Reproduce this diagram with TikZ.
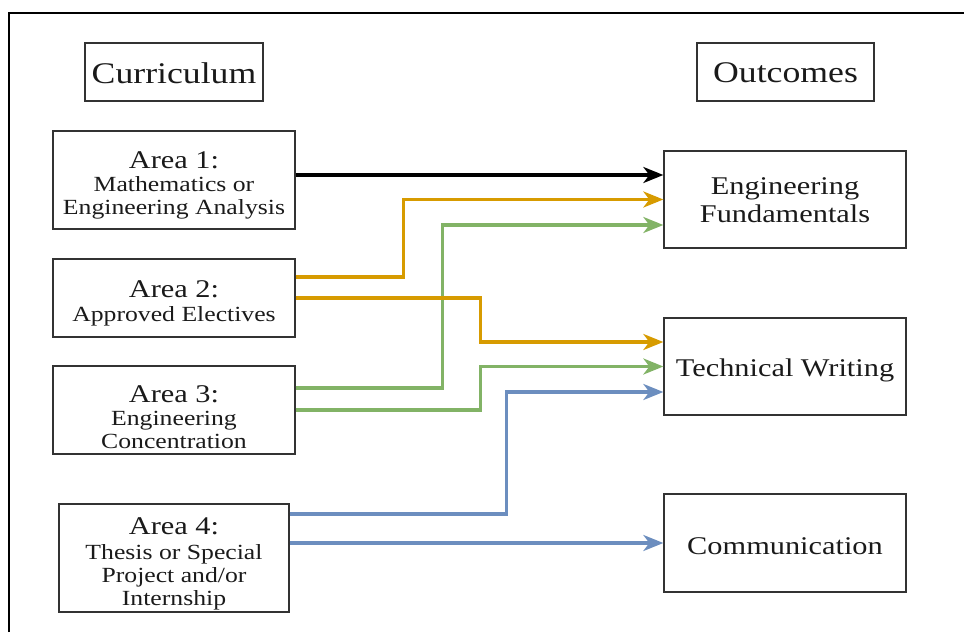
\documentclass[tikz,border=0pt]{standalone}
\usepackage{fontspec}
\setmainfont{Liberation Serif}
\usepackage{graphicx}
\usetikzlibrary{arrows.meta}
\definecolor{boxline}{HTML}{333333}
\definecolor{txt}{HTML}{1A1A1A}
\definecolor{orangeline}{HTML}{D79B00}
\definecolor{greenline}{HTML}{82B366}
\definecolor{blueline}{HTML}{6C8EBF}
\newcommand{\sx}[2][-3pt]{\raisebox{#1}[\height][\depth]{\scalebox{1.19}[1]{#2}}}
\newcommand{\hdr}{\fontsize{30}{34}\selectfont}
\newcommand{\ttl}{\fontsize{25.5}{28}\selectfont}
\newcommand{\sbt}{\fontsize{21.6}{23}\selectfont}
\newcommand{\lines}[2][-7pt]{\sx[#1]{\sbt\begin{tabular}{@{}c@{}}#2\end{tabular}}}
\begin{document}
\begin{tikzpicture}[x=1pt,y=-1pt,
  box/.style={draw=boxline,line width=1.3pt,inner sep=0pt,text=txt,anchor=center},
  conn/.style={line width=3.2pt,-{Stealth[length=20pt,width=16pt,inset=6pt]}}]
\useasboundingbox (0,0) rectangle (964,632);
\draw[line width=1.5pt] (9,632) -- (9,13) -- (964,13);
% headers
\node[box,minimum width=178pt,minimum height=58pt] (cur) at (174,72) {\sx[-1pt]{\hdr Curriculum}};
\node[box,minimum width=177pt,minimum height=58pt] (out) at (785.5,72) {\sx[-1pt]{\hdr Outcomes}};
% areas
\node[box,minimum width=242pt,minimum height=98pt] (a1) at (174,180)
  {\lines{{\ttl Area 1:}\\ Mathematics or\\ Engineering Analysis}};
\node[box,minimum width=242pt,minimum height=78pt] (a2) at (174,298)
  {\lines{{\ttl Area 2:}\\[1pt] Approved Electives}};
\node[box,minimum width=242pt,minimum height=88pt] (a3) at (174,410)
  {\lines[-11pt]{{\ttl Area 3:}\\ Engineering\\ Concentration}};
\node[box,minimum width=230pt,minimum height=108pt] (a4) at (174,558)
  {\lines{{\ttl Area 4:}\\[2pt] Thesis or Special\\ Project and/or\\ Internship}};
% outcomes
\node[box,minimum width=242pt,minimum height=97pt] (ef) at (785,199.5)
  {\sx{\ttl\begin{tabular}{@{}c@{}}Engineering\\ Fundamentals\end{tabular}}};
\node[box,minimum width=242pt,minimum height=97pt] (tw) at (785,366.5)
  {\sx[-4pt]{\ttl Technical Writing}};
\node[box,minimum width=242pt,minimum height=98pt] (cm) at (785,543)
  {\sx[-3pt]{\ttl Communication}};
% connectors
\draw[conn,black] ([yshift=5pt]a1.east) -- ([yshift=24.5pt]ef.west);
\draw[conn,orangeline] ([yshift=21pt]a2.east) -- ++(108,0) |- (ef.west);
\draw[conn,greenline] ([yshift=22pt]a3.east) -- ++(147,0) |- ([yshift=-25.5pt]ef.west);
\draw[conn,orangeline] (a2.east) -- ++(185,0) |- ([yshift=24.5pt]tw.west);
\draw[conn,greenline] (a3.east) -- ++(185,0) |- (tw.west);
\draw[conn,blueline] ([yshift=44pt]a4.east) -- ++(217,0) |- ([yshift=-25.5pt]tw.west);
\draw[conn,blueline] ([yshift=15pt]a4.east) -- (cm.west);
\end{tikzpicture}
\end{document}
